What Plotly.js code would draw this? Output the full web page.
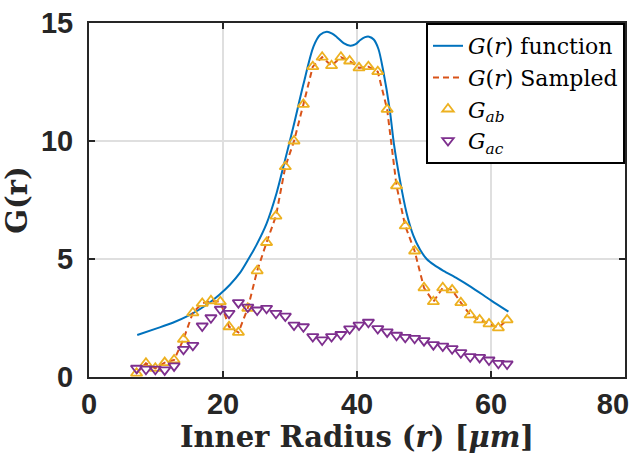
<!DOCTYPE html>
<html>
<head>
<meta charset="utf-8">
<script src="https://cdn.plot.ly/plotly-3.0.1.min.js"></script>
<style>html,body{margin:0;padding:0;background:#fff;}#chart{width:636px;height:457px;}</style>
</head>
<body>
<div id="chart"></div>
<script>
// Sample radii (µm)
const radii = [7.1, 8.5, 9.9, 11.3, 12.7, 14.1, 15.5, 16.9, 18.2, 19.6, 20.9, 22.3, 23.7, 25.1, 26.5, 27.9, 29.3, 30.6, 32.0, 33.4, 34.8, 36.2, 37.6, 38.9, 40.3, 41.7, 43.1, 44.5, 45.9, 47.2, 48.6, 50.0, 51.4, 52.8, 54.2, 55.5, 56.9, 58.3, 59.7, 61.1, 62.4];
// G_ab measured
const gab = [0.16, 0.58, 0.37, 0.61, 0.72, 1.6, 2.72, 3.12, 3.23, 3.19, 2.13, 1.89, 2.91, 4.5, 5.7, 6.82, 8.91, 10.0, 11.55, 13.15, 13.55, 13.19, 13.55, 13.39, 13.1, 13.15, 12.94, 11.34, 8.1, 6.4, 5.34, 3.78, 3.19, 3.78, 3.69, 3.15, 2.63, 2.42, 2.25, 2.08, 2.42];
// G(r) sampled
const gSampled = [0.16, 0.58, 0.37, 0.61, 0.72, 1.6, 2.72, 3.12, 3.23, 3.19, 2.13, 1.89, 2.91, 4.5, 5.7, 6.82, 8.91, 10.0, 11.55, 13.15, 13.55, 13.19, 13.55, 13.39, 13.1, 13.15, 12.94, 11.34, 8.1, 6.4, 5.34, 3.78, 3.19, 3.78, 3.69, 3.15, 2.63, 2.42, 2.25, 2.08, 2.42];
// G_ac measured
const gac = [0.37, 0.33, 0.33, 0.30, 0.47, 1.17, 1.34, 2.16, 2.51, 2.87, 2.7, 3.15, 2.96, 2.84, 2.91, 2.7, 2.58, 2.2, 2.13, 1.71, 1.57, 1.71, 1.8, 2.04, 2.2, 2.32, 2.05, 1.91, 1.77, 1.68, 1.64, 1.54, 1.37, 1.31, 1.2, 1.03, 0.86, 0.83, 0.72, 0.58, 0.55];
// G(r) function (continuous curve)
const funcR = [7.2, 10, 12.5, 15, 17.5, 19.5, 21, 22.5, 23.8, 25, 26.5, 28, 29, 30.5, 32, 33.5, 34.5, 35.5, 36.3, 37, 38, 39, 39.8, 40.5, 41.2, 41.8, 42.5, 43.2, 43.9, 44.9, 45.5, 46.4, 47.4, 48.4, 49.4, 50.4, 51.5, 52.9, 55, 57, 60, 62.6];
const funcG = [1.78, 2.05, 2.3, 2.62, 3.05, 3.5, 3.9, 4.4, 5.0, 5.6, 6.5, 7.8, 8.9, 10.6, 12.4, 14.0, 14.5, 14.63, 14.55, 14.4, 14.15, 14.04, 14.1, 14.28, 14.4, 14.42, 14.3, 13.9, 13.0, 11.3, 9.9, 8.35, 6.95, 6.0, 5.4, 5.0, 4.75, 4.5, 4.17, 3.82, 3.25, 2.77];

const xTicks = [0, 20, 40, 60, 80];
const xTickText = ['0', '20', '40', '60', '80\u00a0\u00a0\u00a0'];
const yTicks = [0, 5, 10, 15];
const yTickText = ['0', '5', '10', '15'];

const serif = "DejaVu Serif, Liberation Serif, serif";
const sans = "Liberation Sans, Arial, Helvetica, sans-serif";

const traces = [
  {x: funcR, y: funcG, type: 'scatter', mode: 'lines', name: '<i>G</i>(<i>r</i>) function',
   line: {color: '#0072BD', width: 2, shape: 'spline', smoothing: 0.8}},
  {x: radii, y: gSampled, type: 'scatter', mode: 'lines', name: '<i>G</i>(<i>r</i>) Sampled',
   line: {color: '#D95319', width: 2, dash: '6px,4px'}},
  {x: radii, y: gab, type: 'scatter', mode: 'markers', name: '<i>G<sub>ab</sub></i>',
   marker: {symbol: 'triangle-up-open', color: '#EDB120', size: 10, line: {width: 1.8, color: '#EDB120'}}},
  {x: radii, y: gac, type: 'scatter', mode: 'markers', name: '<i>G<sub>ac</sub></i>',
   marker: {symbol: 'triangle-down-open', color: '#7E2F8E', size: 10, line: {width: 1.8, color: '#7E2F8E'}}}
];

const axisCommon = {
  showline: true, linecolor: '#262626', linewidth: 2, mirror: 'ticks',
  ticks: 'inside', ticklen: 6, tickwidth: 1.5, tickcolor: '#262626',
  showgrid: true, gridcolor: '#dfdfdf', gridwidth: 2, zeroline: false,
  ticklabeloverflow: 'allow',
  tickfont: {family: sans, size: 29, color: '#262626', weight: 'bold'}
};

const layout = {
  width: 636, height: 457,
  margin: {l: 89, r: 11, t: 23, b: 80},
  paper_bgcolor: '#ffffff', plot_bgcolor: '#ffffff',
  showlegend: true,
  xaxis: Object.assign({}, axisCommon, {
    range: [0, 80], tickvals: xTicks, ticktext: xTickText,
    ticklabelstandoff: 0,
    title: {text: '<b>Inner Radius (<i>r</i>) [<i>μm</i>]</b>', font: {family: serif, size: 29, color: '#262626'}, standoff: 6}
  }),
  yaxis: Object.assign({}, axisCommon, {
    range: [0, 15], tickvals: yTicks, ticktext: yTickText,
    ticklabelstandoff: 8,
    title: {text: '<b>G(r)</b>', font: {family: serif, size: 29, color: '#262626'}, standoff: 6}
  }),
  legend: {
    x: 1, xanchor: 'right', y: 1, yanchor: 'top',
    bgcolor: '#ffffff', bordercolor: '#000000', borderwidth: 2,
    font: {family: serif, size: 22, color: '#000000'},
    tracegroupgap: 0
  }
};

Plotly.newPlot('chart', traces, layout, {staticPlot: true, displayModeBar: false});
</script>
</body>
</html>
